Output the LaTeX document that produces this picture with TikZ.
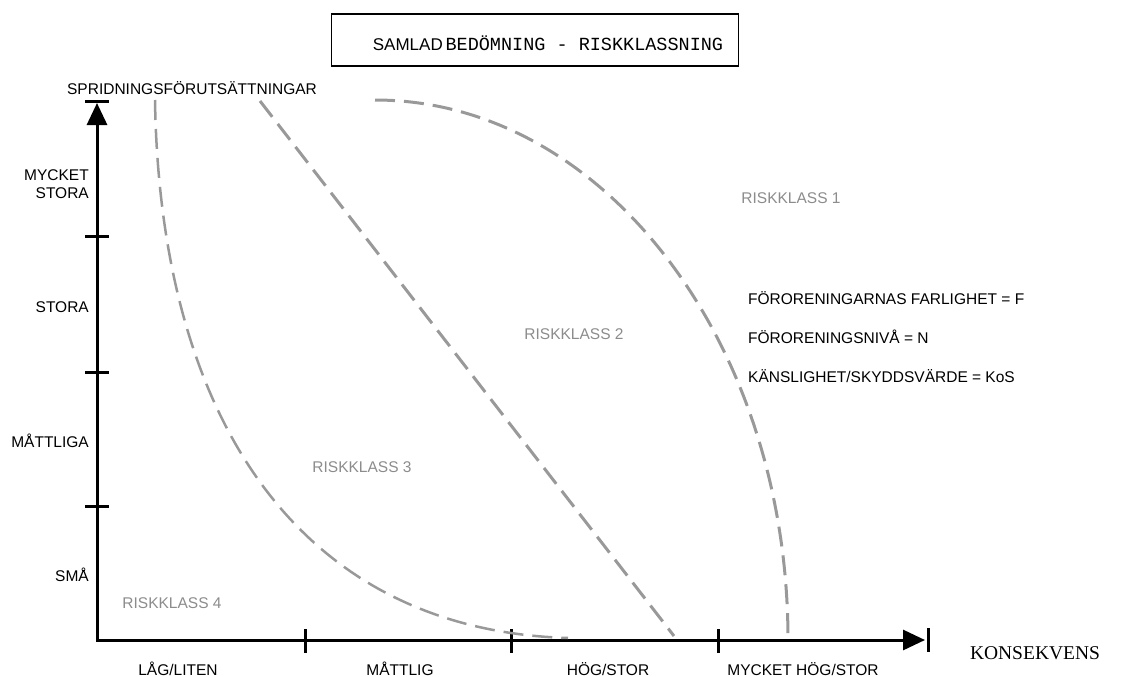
\documentclass[tikz,border=0pt]{standalone}
\usepackage{fontspec}
\setmainfont{Liberation Sans}
\newfontfamily\monofont{Liberation Mono}
\newfontfamily\seriffont{Liberation Serif}
\usetikzlibrary{arrows.meta, positioning}
\definecolor{grensgra}{gray}{0.6}
\definecolor{klassgra}{gray}{0.55}

\tikzset{
  axel/.style={line width=3pt, line join=miter, {Triangle[length=22pt,width=20pt]}-{Triangle[length=22pt,width=20pt]}},
  streck/.style={line width=3pt},
  grens/.style={draw=grensgra, line width=3pt, dash pattern=on 20pt off 9pt},
  etikett/.style={inner sep=0pt, font=\fontsize{15.5}{18}\selectfont},
  klass/.style={etikett, text=klassgra},
}

\begin{document}
\begin{tikzpicture}[x=1pt, y=-1pt]
    \useasboundingbox (0,0) rectangle (1127,677);

    \node[draw, line width=1.5pt, minimum width=407pt, minimum height=52pt, inner sep=0pt] (titel) at (535,40) {};
    \node[inner sep=0pt, anchor=base] (titeltext) at (548,51)
        {{\fontsize{17}{20}\selectfont SAMLAD} {\monofont\fontsize{18.5}{20}\selectfont BEDÖMNING - RISKKLASSNING}};

    \coordinate (origo) at (97,640);
    \coordinate (ytopp) at (97,103);
    \coordinate (xslut) at (925,640);
    \draw[axel] (ytopp) -- (origo) -- (xslut);
    \draw[streck] (85,101) -- (109,101);
    \draw[streck] (928,628) -- (928,652);
    \foreach \y in {236,372,506}
        \draw[streck] (85,\y) -- (109,\y);
    \foreach \x in {305,511,718}
        \draw[streck] (\x,629) -- (\x,653);

    \draw[grens, line width=2.5pt] (155,100) .. controls (160,420) and (300,630) .. (568,638);
    \draw[grens] (260,101) -- (674,636);
    \draw[grens] (375,100) .. controls (603,100) and (788,342) .. (788,640);

    \node[etikett] (spridning) at (192,88) {SPRIDNINGSFÖRUTSÄTTNINGAR};
    \node[etikett, anchor=east, align=right] (mstora) at (89,184) {MYCKET\\STORA};
    \node[etikett, anchor=east] (stora) at (89,307) {STORA};
    \node[etikett, anchor=east] (mattliga) at (89,441) {MÅTTLIGA};
    \node[etikett, anchor=east] (sma) at (89,575) {SMÅ};

    \node[etikett, anchor=base] (lag) at (178,675) {LÅG/LITEN};
    \node[etikett, anchor=base] (mattlig) at (400,675) {MÅTTLIG};
    \node[etikett, anchor=base] (hog) at (608,675) {HÖG/STOR};
    \node[etikett, anchor=base] (mhog) at (803,675) {MYCKET HÖG/STOR};
    \node[inner sep=0pt, font=\seriffont\fontsize{19.5}{24}\selectfont] (konsekvens) at (1035,653) {KONSEKVENS};

    \node[klass] (klass1) at (791,198) {RISKKLASS 1};
    \node[klass] (klass2) at (574,334) {RISKKLASS 2};
    \node[klass] (klass3) at (362,467) {RISKKLASS 3};
    \node[klass] (klass4) at (172,603) {RISKKLASS 4};

    \node[etikett, anchor=west] (farlighet) at (748,298) {FÖRORENINGARNAS FARLIGHET = F};
    \node[etikett, anchor=west] (niva) at (748,337) {FÖRORENINGSNIVÅ = N};
    \node[etikett, anchor=west] (kos) at (748,376) {KÄNSLIGHET/SKYDDSVÄRDE = KoS};
\end{tikzpicture}
\end{document}
